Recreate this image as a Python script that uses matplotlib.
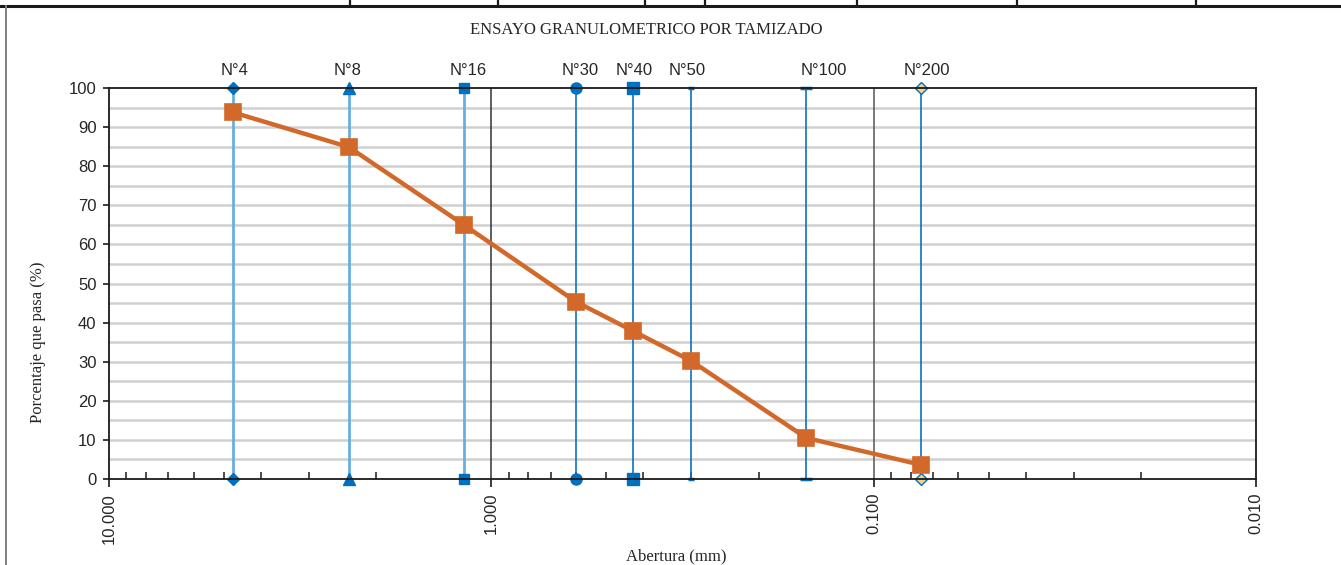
import matplotlib
matplotlib.use("Agg")
import matplotlib.pyplot as plt
from matplotlib.ticker import FixedLocator, LogLocator, NullFormatter, FuncFormatter
from matplotlib.lines import Line2D

# Sieve series and grain-size results
sieve_names = ["N°4", "N°8", "N°16", "N°30", "N°40", "N°50", "N°100", "N°200"]
sieve_openings_mm = [4.75, 2.36, 1.18, 0.60, 0.425, 0.30, 0.15, 0.075]
percent_passing = [93.8, 84.9, 65.0, 45.3, 37.8, 30.2, 10.5, 3.6]

x_major_ticks = [10.0, 1.0, 0.1, 0.01]
y_ticks = [0, 10, 20, 30, 40, 50, 60, 70, 80, 90, 100]

W, H = 1341, 565
fig = plt.figure(figsize=(W / 100, H / 100), dpi=100)
fig.patch.set_facecolor("white")

# Page frame: header rule with cell dividers and left border
frame_color = "#1a1a1a"
fig.add_artist(Line2D([0, 1], [1 - 5.5 / H, 1 - 5.5 / H], transform=fig.transFigure,
                      color=frame_color, lw=2.2))
for xp in [350, 498, 645, 705, 857, 1017, 1196]:
    fig.add_artist(Line2D([xp / W, xp / W], [1, 1 - 5.5 / H], transform=fig.transFigure,
                          color=frame_color, lw=1.6))
fig.add_artist(Line2D([6 / W, 6 / W], [0, 1 - 5.5 / H], transform=fig.transFigure,
                      color="#7f7f7f", lw=1.4))

left, right, top, bottom = 109, 1256, 88, 479
ax = fig.add_axes([left / W, 1 - bottom / H, (right - left) / W, (bottom - top) / H])
ax.set_xscale("log")
ax.set_xlim(10.0, 0.01)
ax.set_ylim(0, 100)

# Horizontal grid every 5 %
for yv in range(5, 100, 5):
    ax.axhline(yv, color="#d0d0d0", lw=1.8, zorder=0)
# Vertical decade lines
for xv in [1.0, 0.1]:
    ax.axvline(xv, color="#333333" if xv == 1.0 else "#555555", lw=1.1, zorder=1)

# Sieve reference lines with end markers
light_blue = "#6aaee0"
dark_blue = "#0a72c4"
marker_blue = "#0070c0"
sieve_styles = [
    dict(line=light_blue, lw=2.0, marker="D", ms=6, mfc=marker_blue, mec=marker_blue, dx=2),
    dict(line=light_blue, lw=2.0, marker="^", ms=8, mfc=marker_blue, mec=marker_blue, dx=-1),
    dict(line=light_blue, lw=2.0, marker="s", ms=7.5, mfc=marker_blue, mec=marker_blue, dx=4),
    dict(line=dark_blue, lw=1.2, marker="o", ms=8, mfc=marker_blue, mec=marker_blue, dx=4),
    dict(line=dark_blue, lw=1.2, marker="s", ms=8, mfc=marker_blue, mec=marker_blue, dx=1),
    dict(line=dark_blue, lw=1.2, marker="_", ms=5, mfc=marker_blue, mec=marker_blue, mew=2.5, dx=-4),
    dict(line=dark_blue, lw=1.2, marker="_", ms=8, mfc=marker_blue, mec=marker_blue, mew=2.5, dx=17),
    dict(line=dark_blue, lw=1.2, marker="D", ms=6, mfc="#fcd184", mec=marker_blue, mew=1.0, dx=5),
]
for name, xo, st in zip(sieve_names, sieve_openings_mm, sieve_styles):
    ax.plot([xo, xo], [0, 100], color=st["line"], lw=st["lw"], zorder=2,
            marker=st["marker"], markersize=st["ms"], markerfacecolor=st["mfc"],
            markeredgecolor=st["mec"], markeredgewidth=st.get("mew", 1.0),
            clip_on=False)
    ax.annotate(name, xy=(xo, 100), xytext=(st["dx"] * 0.72, 7),
                textcoords="offset points", ha="center", va="bottom", fontsize=12,
                family="Liberation Sans", color="#262626", annotation_clip=False)

# Grading curve
orange = "#d2692a"
ax.plot(sieve_openings_mm, percent_passing, color=orange, lw=3.2, marker="s",
        markersize=11.5, markerfacecolor=orange, markeredgecolor=orange,
        markeredgewidth=1.2, zorder=5, clip_on=False)

# Axes styling
for sp in ax.spines.values():
    sp.set_color("#1a1a1a")
    sp.set_linewidth(1.3)

ax.xaxis.set_major_locator(FixedLocator(x_major_ticks))
ax.xaxis.set_major_formatter(FuncFormatter(lambda v, p: f"{v:.3f}"))
ax.xaxis.set_minor_locator(LogLocator(base=10, subs=[2, 3, 4, 5, 6, 7, 8, 9]))
ax.xaxis.set_minor_formatter(NullFormatter())
ax.tick_params(axis="x", which="major", direction="out", length=6, width=1.2,
               color="#1a1a1a", labelsize=12, labelrotation=90, pad=4)
ax.tick_params(axis="x", which="minor", direction="in", length=5, width=1.1,
               color="#1a1a1a")
ax.set_yticks(y_ticks)
ax.tick_params(axis="y", which="major", direction="out", length=4, width=1.2,
               color="#1a1a1a", labelsize=12, pad=5)
for lab in ax.get_xticklabels() + ax.get_yticklabels():
    lab.set_family("Liberation Sans")
    lab.set_color("#262626")

# Titles
fig.text(646 / W, 1 - 30 / H, "ENSAYO GRANULOMETRICO POR TAMIZADO", ha="center",
         va="center", fontsize=12, family="Liberation Serif", color="#262626")
fig.text(38 / W, 1 - 342 / H, "Porcentaje que pasa (%)", ha="center", va="center",
         rotation=90, fontsize=12, family="Liberation Serif", color="#262626")
fig.text(676 / W, 1 - 556 / H, "Abertura (mm)", ha="center", va="center",
         fontsize=12, family="Liberation Serif", color="#262626")

fig.savefig("out.png", dpi=100, facecolor="white")
